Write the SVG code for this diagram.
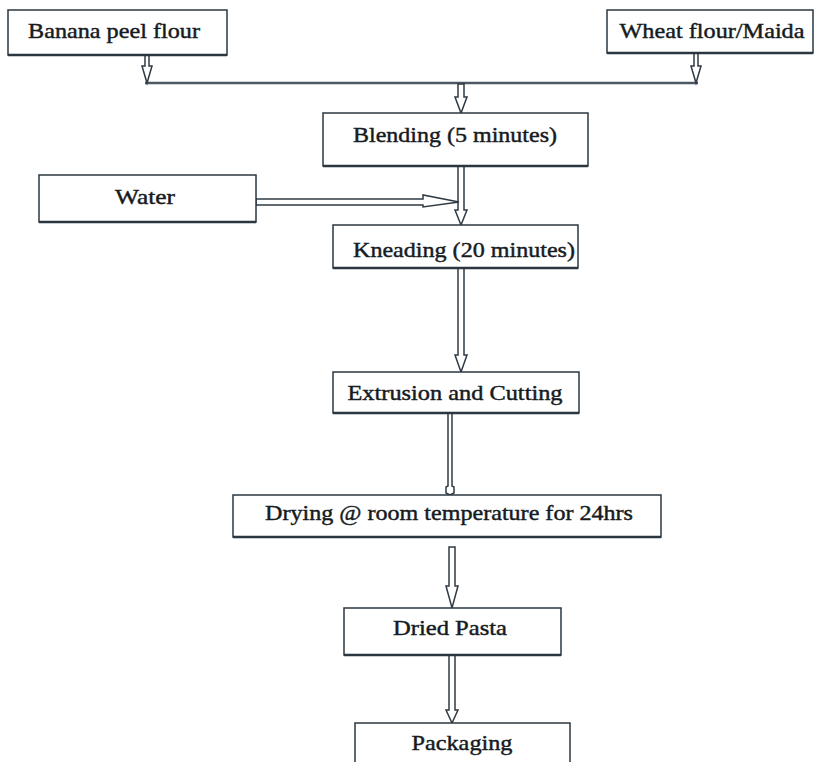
<svg xmlns="http://www.w3.org/2000/svg" width="814" height="762" viewBox="0 0 814 762">
<style>
.box{fill:#ffffff;stroke:#2b3640;stroke-width:1.5}
.shadow{stroke:#2b3640;stroke-width:2.5}
.lbl{font-family:"Liberation Serif","Times New Roman",serif;font-size:22px;fill:#161b22;stroke:#161b22;stroke-width:0.45;text-anchor:middle}
.arr{fill:#ffffff;stroke:#2f3a44;stroke-width:1.5;stroke-linejoin:miter}
.bus{stroke:#4d5863;stroke-width:2.5}
</style>
<rect width="814" height="762" fill="#ffffff"/>
<g id="connectors">
  <line class="bus" x1="145" y1="83" x2="698" y2="83"/>
  <polygon class="arr" points="145,55 149,55 149,66 152,66 147,83 142,66 145,66"/>
  <polygon class="arr" points="694,53 698,53 698,66 701,66 696,83 691,66 694,66"/>
  <polygon class="arr" points="458,84 464,84 464,97 467,97 461,113 455,97 458,97"/>
  <polygon class="arr" points="458,166 464,166 464,210 467,210 461,225 455,210 458,210"/>
  <polygon class="arr" points="256,199 423,199 423,195 459,202 423,207 423,205 256,205"/>
  <polygon class="arr" points="458,268 464,268 464,355 467,355 461,372 455,355 458,355"/>
  <polygon class="arr" points="448,413 452,413 452,486 454,487 454,493 450,495 446,493 446,487 448,486"/>
  <polygon class="arr" points="449,547 455,547 455,586 458,586 452,608 446,586 449,586"/>
  <polygon class="arr" points="449,655 455,655 455,710 458,710 452,723 446,710 449,710"/>
</g>
<g id="banana">
  <rect class="box" x="8" y="10" width="219" height="45"/>
  <line class="shadow" x1="8" y1="55" x2="227" y2="55"/>
  <text class="lbl" x="114" y="38" textLength="172" lengthAdjust="spacingAndGlyphs">Banana peel flour</text>
</g>
<g id="wheat">
  <rect class="box" x="607" y="10" width="206" height="43"/>
  <line class="shadow" x1="607" y1="53" x2="813" y2="53"/>
  <text class="lbl" x="712" y="38" textLength="185" lengthAdjust="spacingAndGlyphs">Wheat flour/Maida</text>
</g>
<g id="blending">
  <rect class="box" x="323" y="113" width="265" height="53"/>
  <line class="shadow" x1="323" y1="166" x2="588" y2="166"/>
  <text class="lbl" x="455" y="142" textLength="204" lengthAdjust="spacingAndGlyphs">Blending (5 minutes)</text>
</g>
<g id="water">
  <rect class="box" x="39" y="175" width="217" height="47"/>
  <line class="shadow" x1="39" y1="222" x2="256" y2="222"/>
  <text class="lbl" x="145" y="204" textLength="60" lengthAdjust="spacingAndGlyphs">Water</text>
</g>
<g id="kneading">
  <rect class="box" x="333" y="225" width="245" height="43"/>
  <line class="shadow" x1="333" y1="268" x2="578" y2="268"/>
  <text class="lbl" x="464" y="257" textLength="222" lengthAdjust="spacingAndGlyphs">Kneading (20 minutes)</text>
</g>
<g id="extrusion">
  <rect class="box" x="333" y="372" width="246" height="41"/>
  <line class="shadow" x1="333" y1="413" x2="579" y2="413"/>
  <text class="lbl" x="455" y="400" textLength="215" lengthAdjust="spacingAndGlyphs">Extrusion and Cutting</text>
</g>
<g id="drying">
  <rect class="box" x="233" y="495" width="428" height="42"/>
  <line class="shadow" x1="233" y1="537" x2="661" y2="537"/>
  <text class="lbl" x="449" y="520" textLength="368" lengthAdjust="spacingAndGlyphs">Drying @ room temperature for 24hrs</text>
</g>
<g id="dried">
  <rect class="box" x="344" y="608" width="217" height="47"/>
  <line class="shadow" x1="344" y1="655" x2="561" y2="655"/>
  <text class="lbl" x="450" y="635" textLength="114" lengthAdjust="spacingAndGlyphs">Dried Pasta</text>
</g>
<g id="packaging">
  <rect class="box" x="355" y="723" width="215" height="60"/>
  <text class="lbl" x="462" y="750" textLength="101" lengthAdjust="spacingAndGlyphs">Packaging</text>
</g>
</svg>
